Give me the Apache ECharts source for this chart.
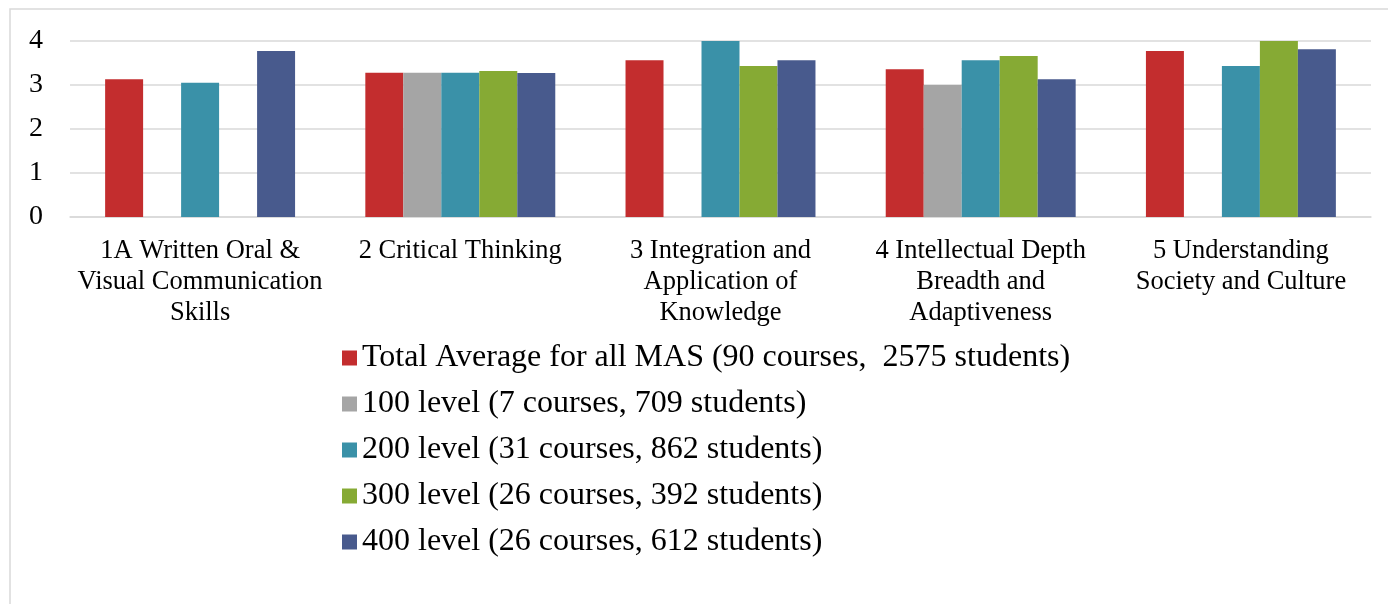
<!DOCTYPE html>
<html>
<head>
<meta charset="utf-8">
<script src="https://cdn.jsdelivr.net/npm/echarts@6/dist/echarts.min.js"></script>
<style>
  html, body { margin: 0; padding: 0; background: #fff; }
  #chart { width: 1388px; height: 604px; }
</style>
</head>
<body>
<div id="chart"></div>
<script>
// categories on the x axis
const categories = [
  '1A Written Oral &\nVisual Communication\nSkills',
  '2 Critical Thinking',
  '3 Integration and\nApplication of\nKnowledge',
  '4 Intellectual Depth\nBreadth and\nAdaptiveness',
  '5 Understanding\nSociety and Culture'
];

const seriesNames = [
  'Total Average for all MAS (90 courses,  2575 students)',
  '100 level (7 courses, 709 students)',
  '200 level (31 courses, 862 students)',
  '300 level (26 courses, 392 students)',
  '400 level (26 courses, 612 students)'
];

// values (null = no bar)
const totalAvg = [3.13, 3.28, 3.56, 3.36, 3.77];
const level100 = [null, 3.28, null, 3.0, null];
const level200 = [3.05, 3.28, 4.0, 3.56, 3.43];
const level300 = [null, 3.32, 3.43, 3.66, 4.0];
const level400 = [3.77, 3.27, 3.56, 3.13, 3.81];

const colors = ['#C32D2E', '#A5A5A5', '#3A91A8', '#86AA34', '#485A8D'];
const allData = [totalAvg, level100, level200, level300, level400];

const chart = echarts.init(document.getElementById('chart'));
const font = '"Liberation Serif", "Times New Roman", serif';

const option = {
  animation: false,
  textStyle: { fontFamily: font, color: '#000' },
  graphic: [{
    type: 'rect',
    shape: { x: 10, y: 9, width: 1390, height: 620 },
    style: { fill: 'none', stroke: '#D9D9D9', lineWidth: 1.5 },
    silent: true
  }],
  grid: { left: 70, right: 17, top: 41, bottom: 387 },
  legend: {
    orient: 'vertical',
    left: 337,
    top: 337,
    itemWidth: 15,
    itemHeight: 15,
    itemGap: 14,
    icon: 'rect',
    data: seriesNames,
    textStyle: { fontFamily: font, fontSize: 32, color: '#000', padding: [0, 0, 0, 0] }
  },
  xAxis: {
    type: 'category',
    data: categories,
    axisLine: { show: true, lineStyle: { color: '#D9D9D9', width: 1.5 } },
    axisTick: { show: false },
    axisLabel: {
      interval: 0,
      margin: 19,
      fontFamily: font,
      fontSize: 26.5,
      lineHeight: 31,
      color: '#000'
    }
  },
  yAxis: {
    type: 'value',
    min: 0,
    max: 4,
    interval: 1,
    axisLine: { show: false },
    axisTick: { show: false },
    splitLine: { lineStyle: { color: '#D9D9D9', width: 1.5 } },
    axisLabel: { fontFamily: font, fontSize: 28, color: '#000', margin: 27 }
  },
  series: seriesNames.map((name, i) => ({
    name: name,
    type: 'bar',
    data: allData[i],
    barGap: '0%',
    barCategoryGap: '27%',
    itemStyle: { color: colors[i] }
  }))
};

chart.setOption(option);
</script>
</body>
</html>
